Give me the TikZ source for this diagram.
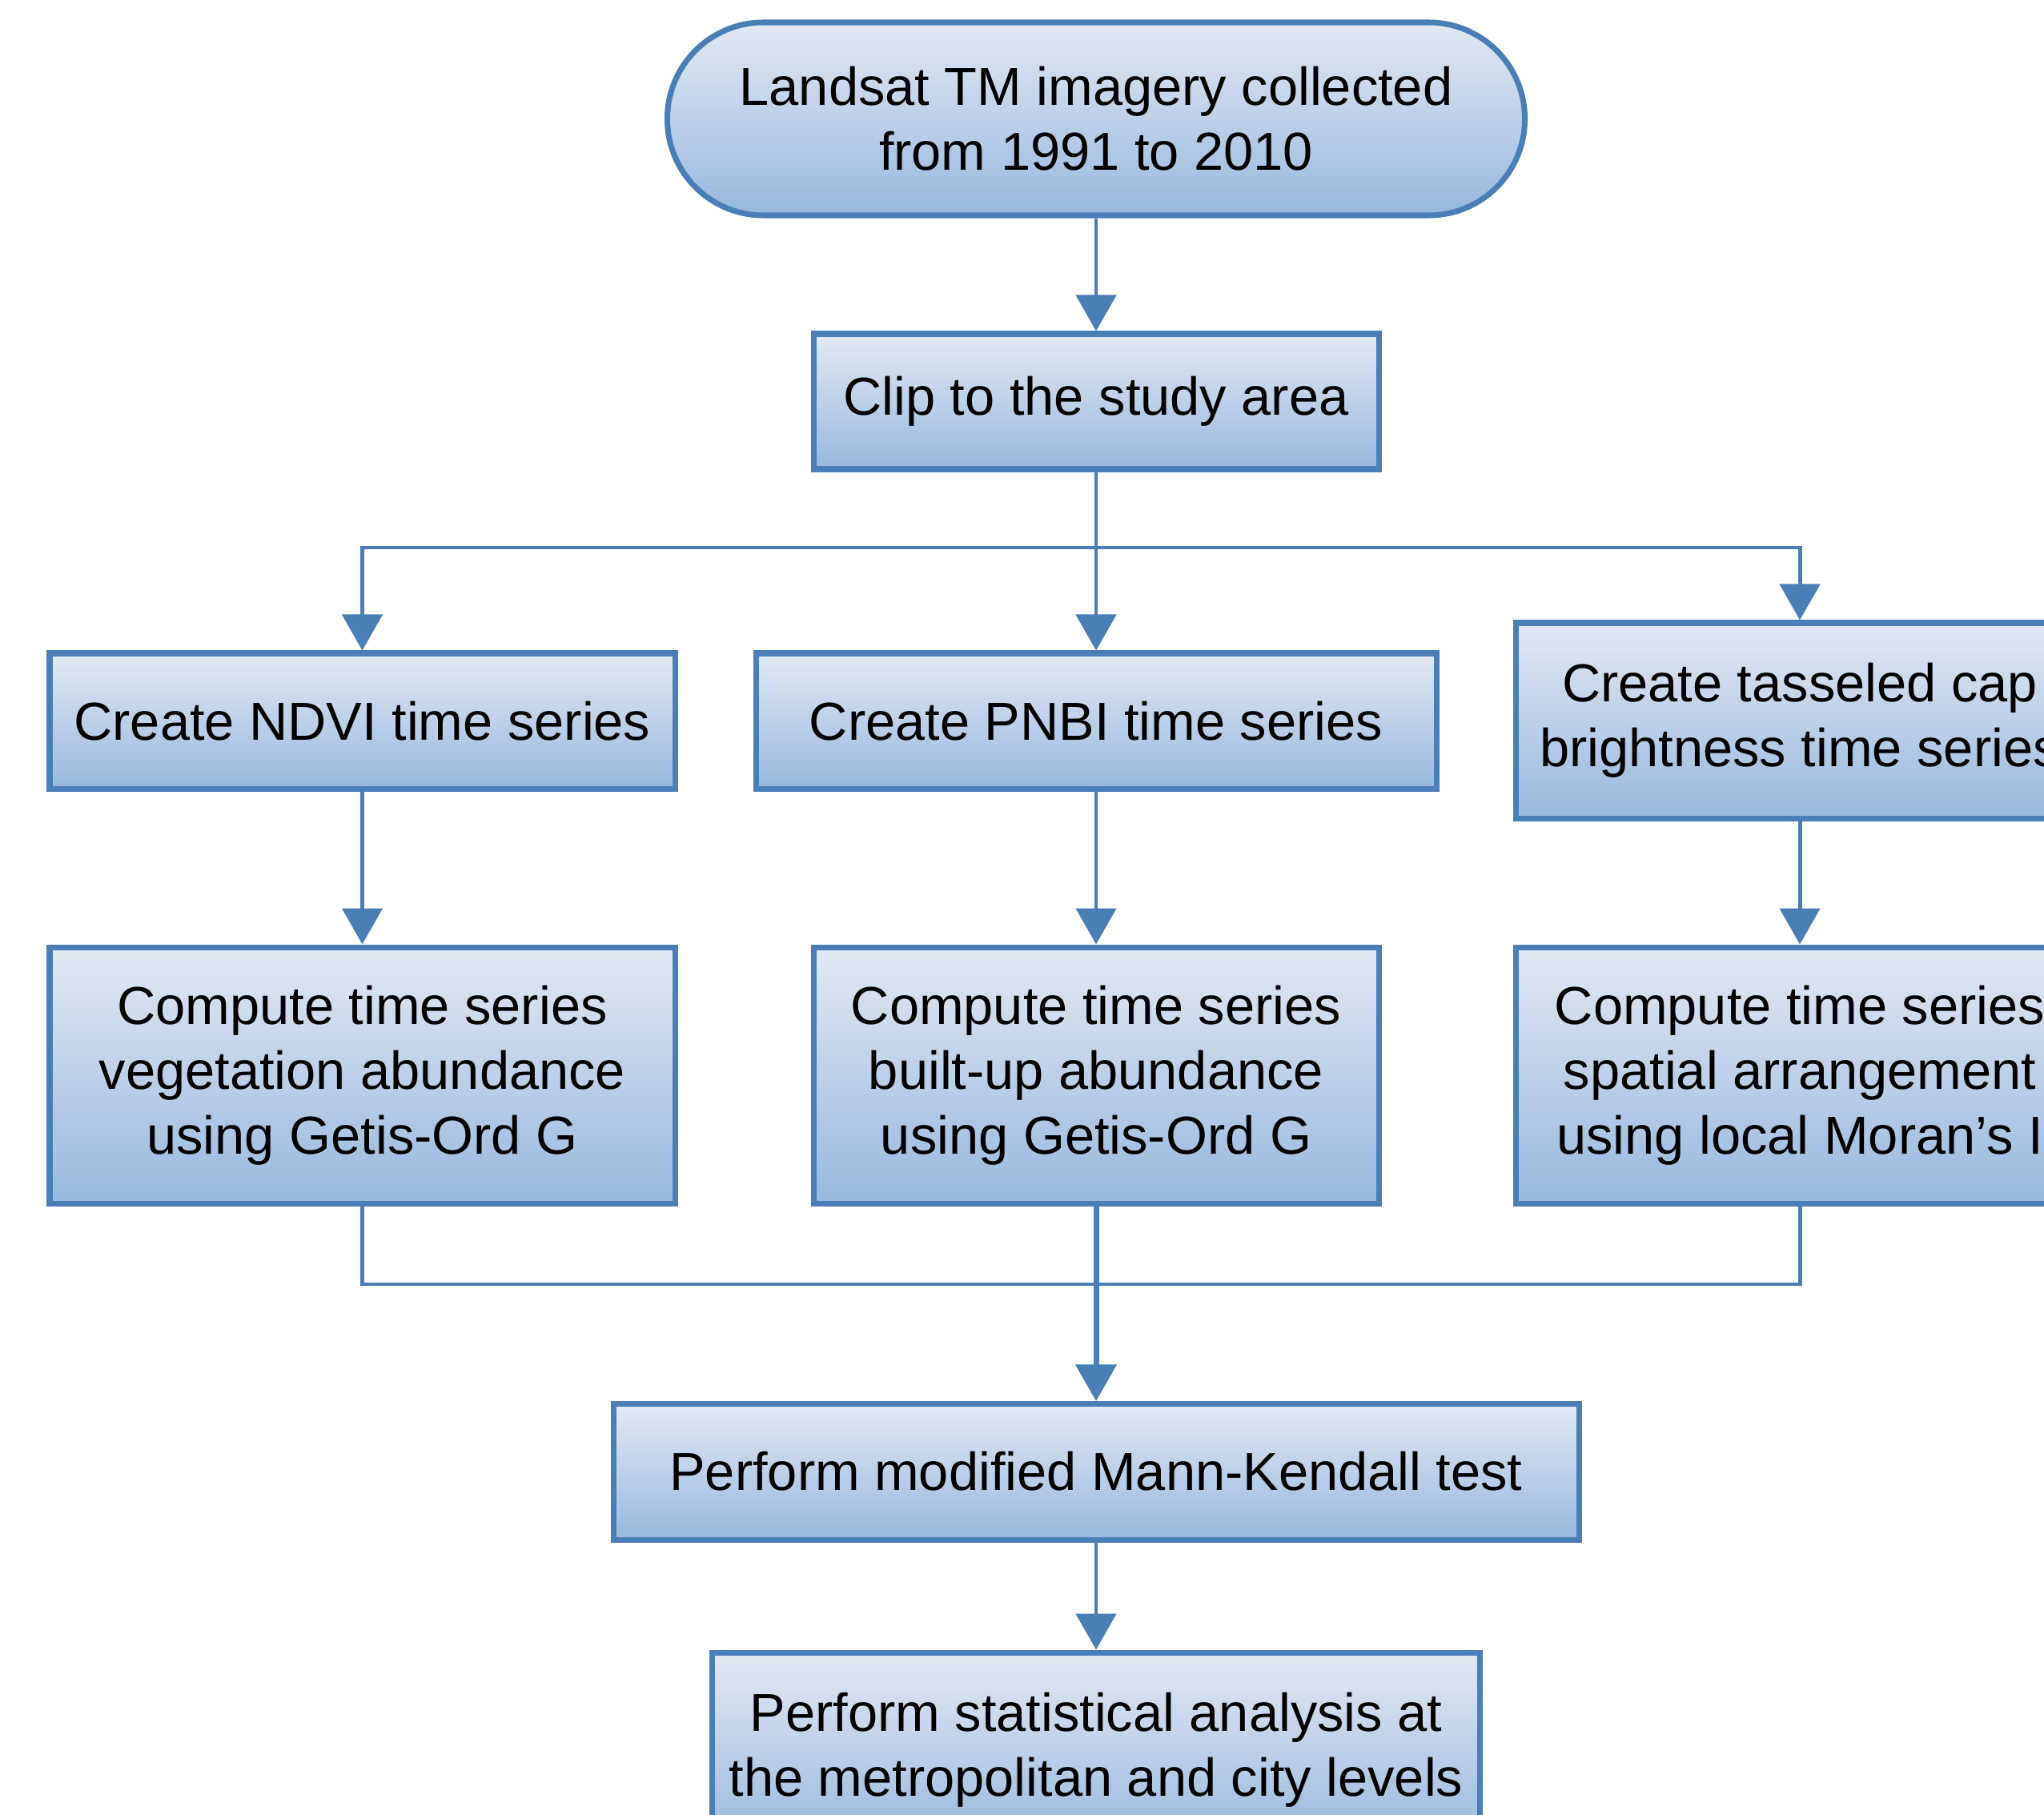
\documentclass[tikz,border=0pt]{standalone}
\usepackage{fontspec}
\setmainfont{Liberation Sans}
\usetikzlibrary{arrows.meta,positioning}
\definecolor{boxline}{RGB}{74,126,183}
\definecolor{boxtop}{RGB}{226,233,244}
\definecolor{boxbot}{RGB}{152,184,222}

\begin{document}
\begin{tikzpicture}
	\useasboundingbox (0,0) rectangle (25.53,-22.66);
	\clip (0,0) rectangle (25.53,-22.66);

	\begin{scope}[every node/.style={rectangle,draw=boxline,line width=2pt,
		top color=boxtop,bottom color=boxbot,align=center,inner sep=0pt,
		font=\fontsize{19}{23}\selectfont}]
		\node [rounded corners=1.2cm,minimum width=10.71cm,minimum height=2.41cm] (landsat) at (13.69,-1.485) {Landsat TM imagery collected\\from 1991 to 2010};
		\node [minimum width=7.06cm,minimum height=1.69cm] (clip) at (13.69,-5.015) {Clip to the study area};
		\node [minimum width=7.81cm,minimum height=1.69cm] (ndvi) at (4.525,-9.005) {Create NDVI time series};
		\node [minimum width=8.5cm,minimum height=1.69cm] (pnbi) at (13.69,-9.005) {Create PNBI time series};
		\node [minimum width=7.1cm,minimum height=2.44cm] (tcap) at (22.48,-9.0) {Create tasseled cap\\brightness time series};
		\node [minimum width=7.81cm,minimum height=3.2cm] (vega) at (4.525,-13.43) {Compute time series\\vegetation abundance\\using Getis-Ord G};
		\node [minimum width=7.06cm,minimum height=3.2cm] (built) at (13.69,-13.43) {Compute time series\\built-up abundance\\using Getis-Ord G};
		\node [minimum width=7.1cm,minimum height=3.2cm] (moran) at (22.48,-13.43) {Compute time series\\spatial arrangement\\using local Moran's I};
		\node [minimum width=12.06cm,minimum height=1.7cm] (mk) at (13.69,-18.38) {Perform modified Mann-Kendall test};
		\node [minimum width=9.59cm,minimum height=2.44cm] (stat) at (13.69,-21.86) {Perform statistical analysis at\\the metropolitan and city levels};
	\end{scope}

	\coordinate (split) at (13.69,-6.84);
	\coordinate (join) at (13.69,-16.04);

	\begin{scope}[>={Triangle[width=5mm,length=4.5mm]},boxline,line width=1.4pt]
		\path (landsat) edge[->] (clip);
		\draw (clip) -- (split);
		\draw [->] (split) -| (ndvi);
		\draw [->] (split) -- (pnbi);
		\draw [->] (split) -| (tcap);
		\path (ndvi) edge[->] (vega);
		\path (pnbi) edge[->] (built);
		\path (tcap) edge[->] (moran);
		\draw [->] (vega) |- (join) -- (mk);
		\draw [->] (moran) |- (join) -- (mk);
		\path (built) edge[->,line width=2pt] (mk);
		\path (mk) edge[->] (stat);
	\end{scope}
\end{tikzpicture}
\end{document}
